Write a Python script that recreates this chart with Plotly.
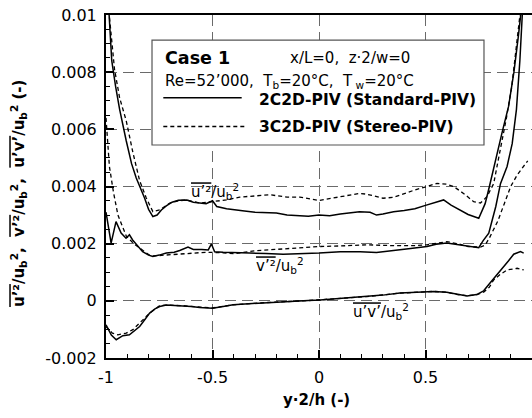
import plotly.graph_objects as go

# ---- data ----
u2_solid_x = [-0.99, -0.973, -0.955, -0.936, -0.905, -0.88, -0.858, -0.835, -0.819, -0.80, -0.78, -0.76, -0.74, -0.717,
              -0.69, -0.66, -0.62, -0.59, -0.56, -0.53, -0.50, -0.48, -0.434, -0.40, -0.35, -0.30, -0.25, -0.20, -0.15,
              -0.10, -0.05, 0.0, 0.05, 0.10, 0.15, 0.19, 0.24, 0.27, 0.30, 0.35, 0.40, 0.45, 0.50, 0.55, 0.585, 0.62,
              0.66, 0.70, 0.75, 0.78, 0.80, 0.83, 0.86, 0.89, 0.915, 0.935, 0.95]
u2_solid_y = [0.0106, 0.0084, 0.0075, 0.0067, 0.0056, 0.0048, 0.0043, 0.0039, 0.0036, 0.0032, 0.00295, 0.00300, 0.00318,
              0.00332, 0.00345, 0.00352, 0.00353, 0.00345, 0.00342, 0.00340, 0.00350, 0.00330, 0.00322, 0.00318, 0.00314,
              0.00310, 0.00308, 0.00307, 0.00300, 0.00298, 0.00296, 0.00300, 0.00298, 0.00304, 0.00309, 0.00312, 0.00310,
              0.00300, 0.00304, 0.00312, 0.00316, 0.00322, 0.00334, 0.00344, 0.00353, 0.00335, 0.00318, 0.00302, 0.00289,
              0.0034, 0.0040, 0.0050, 0.0059, 0.0068, 0.0080, 0.0092, 0.0102]

u2_dashed_x = [-0.99, -0.96, -0.936, -0.905, -0.874, -0.842, -0.811, -0.78, -0.748, -0.70, -0.66, -0.623, -0.56, -0.50,
               -0.434, -0.372, -0.30, -0.23, -0.15, -0.09, 0.0, 0.05, 0.10, 0.19, 0.225, 0.30, 0.35, 0.40, 0.45, 0.507,
               0.554, 0.60, 0.632, 0.68, 0.726, 0.758, 0.789, 0.82, 0.852, 0.88, 0.905, 0.925, 0.948]
u2_dashed_y = [0.0104, 0.0081, 0.0071, 0.0063, 0.0052, 0.0042, 0.0036, 0.00312, 0.00318, 0.00342, 0.00350, 0.00353,
               0.00342, 0.00347, 0.00353, 0.00363, 0.00368, 0.00371, 0.00363, 0.00363, 0.00351, 0.00358, 0.00365,
               0.00376, 0.00373, 0.00359, 0.00362, 0.00375, 0.00388, 0.0040, 0.00411, 0.00408, 0.0040, 0.00375,
               0.00347, 0.00342, 0.00365, 0.0041, 0.0053, 0.0064, 0.0075, 0.0087, 0.0103]

v2_solid_x = [-1.0, -0.976, -0.953, -0.929, -0.906, -0.89, -0.875, -0.85, -0.828, -0.80, -0.78, -0.75, -0.717, -0.68,
              -0.654, -0.615, -0.59, -0.55, -0.52, -0.505, -0.49, -0.45, -0.40, -0.325, -0.25, -0.168, -0.10, 0.0, 0.10,
              0.193, 0.27, 0.35, 0.43, 0.507, 0.55, 0.60, 0.664, 0.70, 0.75, 0.77, 0.797, 0.83, 0.852, 0.883, 0.907,
              0.927, 0.943, 0.955]
v2_solid_y = [0.0031, 0.00202, 0.00277, 0.00237, 0.00219, 0.00231, 0.00213, 0.00190, 0.00172, 0.00160, 0.00155, 0.00160,
              0.00167, 0.00170, 0.00176, 0.00188, 0.00180, 0.00180, 0.00178, 0.00199, 0.00172, 0.00170, 0.00168, 0.00167,
              0.00166, 0.00163, 0.00165, 0.00167, 0.00172, 0.00172, 0.00169, 0.00177, 0.00183, 0.0019, 0.00198, 0.00202,
              0.00196, 0.00192, 0.00186, 0.0021, 0.00237, 0.0033, 0.0041, 0.0047, 0.0055, 0.0067, 0.0084, 0.0101]

v2_dashed_x = [-1.0, -0.984, -0.965, -0.944, -0.928, -0.905, -0.87, -0.842, -0.80, -0.78, -0.70, -0.60, -0.53, -0.45,
               -0.40, -0.30, -0.20, -0.10, 0.0, 0.10, 0.225, 0.35, 0.45, 0.507, 0.60, 0.65, 0.70, 0.758, 0.78, 0.80,
               0.84, 0.87, 0.90, 0.93, 0.95, 0.98]
v2_dashed_y = [0.0064, 0.0047, 0.0038, 0.0030, 0.0027, 0.00227, 0.0020, 0.00185, 0.00162, 0.00157, 0.00161, 0.00164,
               0.00170, 0.00168, 0.00165, 0.00175, 0.00180, 0.00185, 0.0019, 0.00192, 0.00196, 0.00193, 0.00193,
               0.00196, 0.00207, 0.00200, 0.0019, 0.00188, 0.00195, 0.0022, 0.0028, 0.0034, 0.0040, 0.0044, 0.0046,
               0.0049]

uv_solid_x = [-1.0, -0.975, -0.952, -0.921, -0.89, -0.865, -0.842, -0.82, -0.795, -0.77, -0.748, -0.717, -0.68, -0.64,
              -0.60, -0.56, -0.50, -0.45, -0.403, -0.33, -0.246, -0.15, -0.05, 0.005, 0.10, 0.225, 0.30, 0.38, 0.46,
              0.538, 0.60, 0.65, 0.695, 0.74, 0.773, 0.80, 0.852, 0.89, 0.914, 0.946, 0.961]
uv_solid_y = [-0.00084, -0.0012, -0.00136, -0.00122, -0.00119, -0.00105, -0.0009, -0.00068, -0.00043, -0.00028, -0.0002,
              -0.00015, -0.00016, -0.00017, -0.00020, -0.00023, -0.00026, -0.0002, -0.00014, -0.0001, -0.00006, -0.00002,
              0.00001, 0.00003, 0.00008, 0.00015, 0.0002, 0.00027, 0.00031, 0.00033, 0.0003, 0.00022, 0.00017, 0.00022,
              0.00035, 0.0006, 0.00105, 0.0014, 0.00163, 0.00172, 0.00167]

uv_dashed_x = [-1.0, -0.97, -0.944, -0.905, -0.874, -0.842, -0.795, -0.748, -0.717, -0.64, -0.56, -0.50, -0.403, -0.246,
               -0.05, 0.10, 0.225, 0.38, 0.538, 0.60, 0.65, 0.695, 0.74, 0.773, 0.80, 0.82, 0.85, 0.883, 0.93, 0.961]
uv_dashed_y = [-0.0009, -0.00113, -0.00119, -0.00113, -0.00101, -0.00078, -0.00043, -0.00017, -0.00015, -0.00017,
               -0.00023, -0.00025, -0.00014, -0.00006, 0.00001, 0.00008, 0.00015, 0.00027, 0.00033, 0.0003, 0.00022,
               0.00018, 0.00021, 0.0003, 0.00048, 0.00073, 0.00092, 0.00108, 0.00114, 0.00108]

x_tickvals = [-1, -0.5, 0, 0.5, 1]
x_ticktext = ["-1", "-0.5", "0", "0.5", "1"]
y_tickvals = [-0.002, 0, 0.002, 0.004, 0.006, 0.008, 0.01]
y_ticktext = ["-0.002", "0", "0.002", "0.004", "0.006", "0.008", "0.01"]

FONT = "DejaVu Sans"
OL = '<span style="text-decoration:overline">'
SB = 'u<sub>b</sub><sup>2</sup>'
NB = '\u00a0'

solid = dict(color="black", width=1.5)
dashed = dict(color="black", width=1.3, dash="4px,3px")

fig = go.Figure()
for xs, ys, ln in [(u2_solid_x, u2_solid_y, solid), (u2_dashed_x, u2_dashed_y, dashed),
                   (v2_solid_x, v2_solid_y, solid), (v2_dashed_x, v2_dashed_y, dashed),
                   (uv_solid_x, uv_solid_y, solid), (uv_dashed_x, uv_dashed_y, dashed)]:
    fig.add_trace(go.Scatter(x=xs, y=ys, mode="lines", line=ln, showlegend=False, hoverinfo="skip"))

fig.update_layout(
    width=532, height=418,
    margin=dict(l=106, r=0, t=15, b=60),
    paper_bgcolor="white", plot_bgcolor="white",
    font=dict(family=FONT, size=16, color="black"),
    showlegend=False,
)
fig.update_xaxes(
    range=[-1, 1], tickvals=x_tickvals, ticktext=x_ticktext,
    showline=True, linecolor="black", linewidth=2, mirror=True,
    ticks="inside", ticklen=8, tickwidth=1.5, tickcolor="black",
    minor=dict(ticks="inside", dtick=0.1, ticklen=4, tickcolor="black", tickwidth=1.2, showgrid=False),
    showgrid=True, gridcolor="#6a6a6a", gridwidth=1, griddash="11px,6px",
    zeroline=False, automargin=False, ticklabelstandoff=4,
    tickfont=dict(family=FONT, size=16),
)
fig.update_yaxes(
    range=[-0.002, 0.01], tickvals=y_tickvals, ticktext=y_ticktext,
    showline=True, linecolor="black", linewidth=2, mirror=False,
    ticks="inside", ticklen=8, tickwidth=1.5, tickcolor="black",
    minor=dict(ticks="inside", dtick=0.0005, ticklen=4, tickcolor="black", tickwidth=1.2, showgrid=False),
    showgrid=True, gridcolor="#6a6a6a", gridwidth=1, griddash="11px,6px",
    zeroline=False, automargin=False, ticklabelstandoff=4,
    tickfont=dict(family=FONT, size=16),
)

# legend box
fig.add_shape(type="rect", xref="paper", yref="paper", x0=0.108, x1=0.8873, y0=0.621, y1=0.927,
              line=dict(color="#555555", width=1.2), fillcolor="white", layer="above")
fig.add_shape(type="line", xref="paper", yref="paper", x0=0.1345, x1=0.3185, y0=0.759, y1=0.759,
              line=solid, layer="above")
fig.add_shape(type="line", xref="paper", yref="paper", x0=0.1345, x1=0.3263, y0=0.675, y1=0.675,
              line=dashed, layer="above")

def ann(text, x, y, size, xanchor="left", ref="paper", **kw):
    fig.add_annotation(text=text, x=x, y=y, xref=ref, yref=ref, showarrow=False,
                       xanchor=xanchor, yanchor="middle", font=dict(family=FONT, size=size, color="black"), **kw)

ann("<b>Case 1</b>", 0.1331, 0.8746, 17.5)
ann(f"x/L=0,{NB}{NB}z·2/w=0", 0.428, 0.8746, 15)
ann(f"Re=52’000,{NB}{NB}T<sub>b</sub>=20°C,{NB}{NB}T<sub>{NB}w</sub>=20°C", 0.1331, 0.807, 15)
ann("<b>2C2D-PIV (Standard-PIV)</b>", 0.3552, 0.752, 15.5)
ann("<b>3C2D-PIV (Stereo-PIV)</b>", 0.3552, 0.6735, 15.5)

# curve labels
ann(f"{OL}u’²</span>/{SB}", -0.488, 0.00384, 15, xanchor="center", ref=None)
ann(f"{OL}v’²</span>/{SB}", -0.183, 0.00122, 15, xanchor="center", ref=None)
ann(f"{OL}u’v’</span>/{SB}", 0.291, -0.00039, 15, xanchor="center", ref=None)

# axis titles
ann("<b>y·2/h (-)</b>", 0.4953, -0.122, 15, xanchor="center")
ann(f"<b>{OL}u’²</span>/{SB},{NB}{NB}{OL}v’²</span>/{SB},{NB}{NB}{OL}u’v’</span>/{SB} (-)</b>",
    -0.2066, 0.481, 15, xanchor="center", textangle=-90)

fig.write_html("out.html")
